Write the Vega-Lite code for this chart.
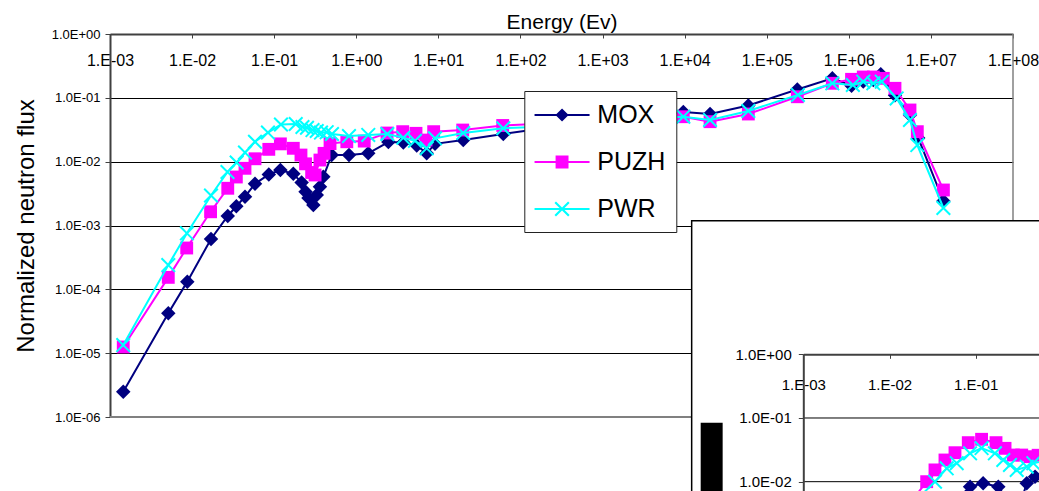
{
  "$schema": "https://vega.github.io/schema/vega-lite/v6.json",
  "width": 903,
  "height": 383,
  "autosize": {"type": "none"},
  "padding": {"left": 110, "top": 34, "right": 26, "bottom": 74},
  "background": "white",
  "config": {
    "view": {"stroke": null},
    "font": "Liberation Sans",
    "text": {"font": "Liberation Sans"}
  },
  "datasets": {
    "main": [
      {"s": "MOX", "e": 0.00145, "f": 0.00000249}, {"s": "MOX", "e": 0.00513, "f": 0.0000421}, {"s": "MOX", "e": 0.00874, "f": 0.000132},
      {"s": "MOX", "e": 0.017, "f": 0.000614}, {"s": "MOX", "e": 0.0272, "f": 0.00141}, {"s": "MOX", "e": 0.0346, "f": 0.002},
      {"s": "MOX", "e": 0.0441, "f": 0.00283}, {"s": "MOX", "e": 0.0584, "f": 0.0045}, {"s": "MOX", "e": 0.086, "f": 0.0063},
      {"s": "MOX", "e": 0.119, "f": 0.0074}, {"s": "MOX", "e": 0.171, "f": 0.00645}, {"s": "MOX", "e": 0.216, "f": 0.00472},
      {"s": "MOX", "e": 0.241, "f": 0.00338}, {"s": "MOX", "e": 0.262, "f": 0.0027}, {"s": "MOX", "e": 0.3, "f": 0.00209},
      {"s": "MOX", "e": 0.33, "f": 0.003}, {"s": "MOX", "e": 0.361, "f": 0.00405}, {"s": "MOX", "e": 0.397, "f": 0.0058},
      {"s": "MOX", "e": 0.502, "f": 0.0127}, {"s": "MOX", "e": 0.815, "f": 0.0127}, {"s": "MOX", "e": 1.4, "f": 0.0135},
      {"s": "MOX", "e": 2.46, "f": 0.0203}, {"s": "MOX", "e": 3.74, "f": 0.02}, {"s": "MOX", "e": 5.45, "f": 0.0179},
      {"s": "MOX", "e": 7.21, "f": 0.0135}, {"s": "MOX", "e": 9.1, "f": 0.019}, {"s": "MOX", "e": 20.1, "f": 0.0218},
      {"s": "MOX", "e": 61.8, "f": 0.0271}, {"s": "MOX", "e": 150, "f": 0.032}, {"s": "MOX", "e": 500, "f": 0.038},
      {"s": "MOX", "e": 1500, "f": 0.043}, {"s": "MOX", "e": 4000, "f": 0.049}, {"s": "MOX", "e": 9640, "f": 0.06},
      {"s": "MOX", "e": 20400, "f": 0.0558}, {"s": "MOX", "e": 59700, "f": 0.0758}, {"s": "MOX", "e": 236000, "f": 0.135},
      {"s": "MOX", "e": 630000, "f": 0.202}, {"s": "MOX", "e": 1080000, "f": 0.155}, {"s": "MOX", "e": 1500000, "f": 0.18},
      {"s": "MOX", "e": 1990000, "f": 0.19}, {"s": "MOX", "e": 2450000, "f": 0.235}, {"s": "MOX", "e": 3650000, "f": 0.11},
      {"s": "MOX", "e": 5560000, "f": 0.054}, {"s": "MOX", "e": 7000000, "f": 0.0235}, {"s": "MOX", "e": 14200000, "f": 0.00242},

      {"s": "PUZH", "e": 0.00145, "f": 0.0000125}, {"s": "PUZH", "e": 0.00513, "f": 0.000154}, {"s": "PUZH", "e": 0.0086, "f": 0.000444},
      {"s": "PUZH", "e": 0.0168, "f": 0.00164}, {"s": "PUZH", "e": 0.0272, "f": 0.00383}, {"s": "PUZH", "e": 0.0346, "f": 0.00575},
      {"s": "PUZH", "e": 0.0441, "f": 0.00787}, {"s": "PUZH", "e": 0.0584, "f": 0.0111}, {"s": "PUZH", "e": 0.086, "f": 0.0156},
      {"s": "PUZH", "e": 0.119, "f": 0.019}, {"s": "PUZH", "e": 0.171, "f": 0.0162}, {"s": "PUZH", "e": 0.212, "f": 0.0127},
      {"s": "PUZH", "e": 0.241, "f": 0.00925}, {"s": "PUZH", "e": 0.286, "f": 0.00677}, {"s": "PUZH", "e": 0.315, "f": 0.00618},
      {"s": "PUZH", "e": 0.361, "f": 0.0106}, {"s": "PUZH", "e": 0.405, "f": 0.0135}, {"s": "PUZH", "e": 0.479, "f": 0.0192},
      {"s": "PUZH", "e": 0.767, "f": 0.0205}, {"s": "PUZH", "e": 1.25, "f": 0.021}, {"s": "PUZH", "e": 2.37, "f": 0.0281},
      {"s": "PUZH", "e": 3.68, "f": 0.0295}, {"s": "PUZH", "e": 5.34, "f": 0.0278}, {"s": "PUZH", "e": 7.07, "f": 0.0218},
      {"s": "PUZH", "e": 8.77, "f": 0.0295}, {"s": "PUZH", "e": 19.8, "f": 0.0313}, {"s": "PUZH", "e": 60.8, "f": 0.0369},
      {"s": "PUZH", "e": 150, "f": 0.039}, {"s": "PUZH", "e": 500, "f": 0.042}, {"s": "PUZH", "e": 1500, "f": 0.046},
      {"s": "PUZH", "e": 4000, "f": 0.049}, {"s": "PUZH", "e": 9640, "f": 0.0506}, {"s": "PUZH", "e": 20400, "f": 0.0423},
      {"s": "PUZH", "e": 59700, "f": 0.0558}, {"s": "PUZH", "e": 236000, "f": 0.104}, {"s": "PUZH", "e": 630000, "f": 0.169},
      {"s": "PUZH", "e": 1080000, "f": 0.195}, {"s": "PUZH", "e": 1500000, "f": 0.212}, {"s": "PUZH", "e": 1990000, "f": 0.212},
      {"s": "PUZH", "e": 2630000, "f": 0.202}, {"s": "PUZH", "e": 3650000, "f": 0.141}, {"s": "PUZH", "e": 5560000, "f": 0.0645},
      {"s": "PUZH", "e": 6830000, "f": 0.0295}, {"s": "PUZH", "e": 14200000, "f": 0.0036},

      {"s": "PWR", "e": 0.00145, "f": 0.0000134}, {"s": "PWR", "e": 0.00513, "f": 0.00024}, {"s": "PWR", "e": 0.00865, "f": 0.000755},
      {"s": "PWR", "e": 0.017, "f": 0.00295}, {"s": "PWR", "e": 0.027, "f": 0.00689}, {"s": "PWR", "e": 0.0349, "f": 0.0097},
      {"s": "PWR", "e": 0.0441, "f": 0.0139}, {"s": "PWR", "e": 0.0584, "f": 0.0205}, {"s": "PWR", "e": 0.084, "f": 0.0286},
      {"s": "PWR", "e": 0.121, "f": 0.0382}, {"s": "PWR", "e": 0.183, "f": 0.0389}, {"s": "PWR", "e": 0.221, "f": 0.0349},
      {"s": "PWR", "e": 0.251, "f": 0.034}, {"s": "PWR", "e": 0.293, "f": 0.0313}, {"s": "PWR", "e": 0.33, "f": 0.0302},
      {"s": "PWR", "e": 0.372, "f": 0.0286}, {"s": "PWR", "e": 0.436, "f": 0.029}, {"s": "PWR", "e": 0.506, "f": 0.0271},
      {"s": "PWR", "e": 0.815, "f": 0.0252}, {"s": "PWR", "e": 1.4, "f": 0.0262}, {"s": "PWR", "e": 2.39, "f": 0.0271},
      {"s": "PWR", "e": 3.74, "f": 0.0237}, {"s": "PWR", "e": 5.19, "f": 0.0212}, {"s": "PWR", "e": 7.21, "f": 0.0162},
      {"s": "PWR", "e": 9.1, "f": 0.0232}, {"s": "PWR", "e": 20.1, "f": 0.0281}, {"s": "PWR", "e": 61.8, "f": 0.0333},
      {"s": "PWR", "e": 150, "f": 0.035}, {"s": "PWR", "e": 500, "f": 0.039}, {"s": "PWR", "e": 1500, "f": 0.043},
      {"s": "PWR", "e": 4000, "f": 0.048}, {"s": "PWR", "e": 9640, "f": 0.0506}, {"s": "PWR", "e": 20400, "f": 0.045},
      {"s": "PWR", "e": 59700, "f": 0.0622}, {"s": "PWR", "e": 240000, "f": 0.111}, {"s": "PWR", "e": 630000, "f": 0.169},
      {"s": "PWR", "e": 1120000, "f": 0.159}, {"s": "PWR", "e": 1500000, "f": 0.179}, {"s": "PWR", "e": 1990000, "f": 0.169},
      {"s": "PWR", "e": 2520000, "f": 0.179}, {"s": "PWR", "e": 3830000, "f": 0.098}, {"s": "PWR", "e": 5560000, "f": 0.045},
      {"s": "PWR", "e": 6830000, "f": 0.0182}, {"s": "PWR", "e": 14200000, "f": 0.00188}
    ],
    "frameRight": [{"e": 100000000, "f": 0.000001, "f2": 1}],
    "frameBottom": [{"e": 0.001, "e2": 100000000, "f": 0.000001}],
    "insetBox": [{"x": 0.0000507, "x2": 10, "y": 125, "y2": 0.0001}],
    "insetBar": [{"x": 0.0000645, "x2": 0.000116, "y": 0.0844, "y2": 0.0001}],
    "insetGrid": [{"x": 0.001, "x2": 10, "y": 0.1}, {"x": 0.001, "x2": 10, "y": 0.01}],
    "inset": [
      {"s": "MOX", "x": 0.058, "y": 0.005}, {"s": "MOX", "x": 0.086, "y": 0.00835}, {"s": "MOX", "x": 0.122, "y": 0.00944},
      {"s": "MOX", "x": 0.183, "y": 0.00835}, {"s": "MOX", "x": 0.25, "y": 0.0045}, {"s": "MOX", "x": 0.3, "y": 0.003},
      {"s": "MOX", "x": 0.391, "y": 0.00944}, {"s": "MOX", "x": 0.488, "y": 0.012}, {"s": "MOX", "x": 0.7, "y": 0.014},
      {"s": "PUZH", "x": 0.017, "y": 0.0045}, {"s": "PUZH", "x": 0.027, "y": 0.01}, {"s": "PUZH", "x": 0.0337, "y": 0.0153},
      {"s": "PUZH", "x": 0.044, "y": 0.0219}, {"s": "PUZH", "x": 0.0575, "y": 0.0285}, {"s": "PUZH", "x": 0.082, "y": 0.041},
      {"s": "PUZH", "x": 0.117, "y": 0.0463}, {"s": "PUZH", "x": 0.172, "y": 0.041}, {"s": "PUZH", "x": 0.219, "y": 0.0334},
      {"s": "PUZH", "x": 0.273, "y": 0.0262}, {"s": "PUZH", "x": 0.342, "y": 0.0262}, {"s": "PUZH", "x": 0.427, "y": 0.0247},
      {"s": "PUZH", "x": 0.53, "y": 0.026}, {"s": "PUZH", "x": 0.8, "y": 0.027},
      {"s": "PWR", "x": 0.02, "y": 0.005}, {"s": "PWR", "x": 0.0337, "y": 0.01}, {"s": "PWR", "x": 0.0461, "y": 0.0162},
      {"s": "PWR", "x": 0.0602, "y": 0.0195}, {"s": "PWR", "x": 0.086, "y": 0.0279}, {"s": "PWR", "x": 0.117, "y": 0.0337},
      {"s": "PWR", "x": 0.167, "y": 0.0279}, {"s": "PWR", "x": 0.209, "y": 0.0219}, {"s": "PWR", "x": 0.25, "y": 0.0183},
      {"s": "PWR", "x": 0.299, "y": 0.0153}, {"s": "PWR", "x": 0.391, "y": 0.0172}, {"s": "PWR", "x": 0.466, "y": 0.0195},
      {"s": "PWR", "x": 0.7, "y": 0.022}
    ]
  },
  "layer": [
    {
      "encoding": {
        "x": {
          "field": "e", "type": "quantitative",
          "scale": {"type": "log", "domain": [0.001, 100000000], "nice": false},
          "axis": {
            "orient": "bottom", "offset": -383,
            "values": [0.001, 0.01, 0.1, 1, 10, 100, 1000, 10000, 100000, 1000000, 10000000, 100000000],
            "labelExpr": "'1.E' + (datum.value < 0.9 ? '-' : '+') + '0' + abs(round(log(datum.value) / LN10))",
            "grid": false, "tickSize": 4, "tickColor": "#404040", "tickWidth": 1,
            "domainColor": "#404040", "domainWidth": 2,
            "labelFont": "Liberation Sans", "labelFontSize": 16, "labelColor": "black",
            "labelBaseline": "alphabetic", "labelPadding": 27.5, "labelOverlap": false, "labelFlush": false,
            "title": "Energy (Ev)", "titleFont": "Liberation Sans", "titleFontSize": 21, "titleFontWeight": "normal",
            "titleColor": "black", "titleX": 451.5, "titleY": -6, "titleBaseline": "alphabetic", "titleAlign": "center", "titleAngle": 0
          }
        },
        "y": {
          "field": "f", "type": "quantitative",
          "scale": {"type": "log", "domain": [0.000001, 1], "nice": false},
          "axis": {
            "orient": "left",
            "values": [0.000001, 0.00001, 0.0001, 0.001, 0.01, 0.1, 1],
            "labelExpr": "'1.0E' + (datum.value < 0.9 ? '-' : '+') + '0' + abs(round(log(datum.value) / LN10))",
            "grid": true, "gridColor": "black", "gridWidth": 1, "gridOpacity": 1,
            "tickSize": 5, "tickColor": "#404040", "domainColor": "#404040", "domainWidth": 2,
            "labelFont": "Liberation Sans", "labelFontSize": 13, "labelColor": "black", "labelPadding": 5, "labelOverlap": false,
            "title": "Normalized neutron flux", "titleFont": "Liberation Sans", "titleFontSize": 24, "titleFontWeight": "normal",
            "titleColor": "black", "titleX": -77, "titleY": 191.5, "titleBaseline": "alphabetic", "titleAlign": "center", "titleAngle": -90
          }
        }
      },
      "layer": [
        {"data": {"name": "frameRight"}, "mark": {"type": "rule", "color": "#808080", "strokeWidth": 1.5}, "encoding": {"y2": {"field": "f2"}}},
        {"data": {"name": "frameBottom"}, "mark": {"type": "rule", "color": "#808080", "strokeWidth": 2}, "encoding": {"x2": {"field": "e2"}}},
        {"data": {"name": "main"}, "transform": [{"filter": "datum.s === 'MOX'"}], "mark": {"type": "line", "color": "#000080", "strokeWidth": 2}},
        {"data": {"name": "main"}, "transform": [{"filter": "datum.s === 'MOX'"}], "mark": {"type": "point", "shape": "diamond", "filled": true, "color": "#000080", "opacity": 1, "size": 210}},
        {"data": {"name": "main"}, "transform": [{"filter": "datum.s === 'PUZH'"}], "mark": {"type": "line", "color": "#FF00FF", "strokeWidth": 2}},
        {"data": {"name": "main"}, "transform": [{"filter": "datum.s === 'PUZH'"}], "mark": {"type": "point", "shape": "square", "filled": true, "color": "#FF00FF", "opacity": 1, "size": 165}},
        {"data": {"name": "main"}, "transform": [{"filter": "datum.s === 'PWR'"}], "mark": {"type": "line", "color": "#00FFFF", "strokeWidth": 2}},
        {"data": {"name": "main"}, "transform": [{"filter": "datum.s === 'PWR'"}], "mark": {"type": "point", "shape": "M-1,-1L1,1M-1,1L1,-1", "filled": false, "color": "#00FFFF", "opacity": 1, "size": 185, "strokeWidth": 2}},
        {
          "data": {"name": "main"},
          "transform": [{"filter": "false"}],
          "mark": {"type": "point", "filled": true, "opacity": 1, "size": 756.25},
          "encoding": {
            "color": {
              "field": "s", "type": "nominal",
              "scale": {"domain": ["MOX", "PUZH", "PWR"], "range": ["#000080", "#FF00FF", "#00FFFF"]},
              "legend": {
                "title": null, "orient": "none", "legendX": 414.3, "legendY": 57, "padding": 10,
                "fillColor": "white", "strokeColor": "#222",
                "symbolSize": 756.25, "symbolStrokeWidth": 0, "symbolOffset": 0,
                "labelFont": "Liberation Sans", "labelFontSize": 25, "labelColor": "black", "labelOffset": 35, "rowPadding": 20
              }
            },
            "shape": {
              "field": "s", "type": "nominal",
              "scale": {
                "domain": ["MOX", "PUZH", "PWR"],
                "range": [
                  "M-1,-0.073H3V0.073H-1ZM1,-0.48L1.48,0L1,0.48L0.52,0Z",
                  "M-1,-0.073H3V0.073H-1ZM0.53,-0.47H1.47V0.47H0.53Z",
                  "M-1,-0.073H3V0.073H-1ZM0.45,-0.44L0.56,-0.55L1,-0.11L1.44,-0.55L1.55,-0.44L1.11,0L1.55,0.44L1.44,0.55L1,0.11L0.56,0.55L0.45,0.44L0.89,0Z"
                ]
              },
              "legend": {
                "title": null, "orient": "none", "legendX": 414.3, "legendY": 57, "padding": 10,
                "fillColor": "white", "strokeColor": "#222",
                "symbolSize": 756.25, "symbolStrokeWidth": 0, "symbolOffset": 0,
                "labelFont": "Liberation Sans", "labelFontSize": 25, "labelColor": "black", "labelOffset": 35, "rowPadding": 20
              }
            }
          }
        }
      ]
    },
    {
      "encoding": {
        "x": {
          "field": "x", "type": "quantitative",
          "scale": {"type": "log", "domain": [0.001, 1], "range": [693.3, 951.9], "nice": false},
          "axis": {
            "orient": "bottom", "offset": -62.7, "zindex": 1,
            "values": [0.001, 0.01, 0.1],
            "labelExpr": "'1.E' + (datum.value < 0.9 ? '-' : '+') + '0' + abs(round(log(datum.value) / LN10))",
            "grid": false, "tickSize": 4, "tickColor": "#404040", "domainColor": "#404040", "domainWidth": 2,
            "labelFont": "Liberation Sans", "labelFontSize": 15, "labelColor": "black",
            "labelBaseline": "alphabetic", "labelPadding": 30.7, "labelOverlap": false, "labelFlush": false,
            "title": null
          }
        },
        "y": {
          "field": "y", "type": "quantitative",
          "scale": {"type": "log", "domain": [0.002, 1], "range": [492.2, 320.3], "nice": false},
          "axis": {
            "orient": "left", "offset": -693.3, "zindex": 1,
            "values": [0.01, 0.1, 1],
            "labelExpr": "'1.0E' + (datum.value < 0.9 ? '-' : '+') + '0' + abs(round(log(datum.value) / LN10))",
            "grid": false, "tickSize": 5, "tickColor": "#404040", "domainColor": "#404040", "domainWidth": 2,
            "labelFont": "Liberation Sans", "labelFontSize": 15, "labelColor": "black", "labelPadding": 7, "labelOverlap": false,
            "title": null
          }
        }
      },
      "layer": [
        {"data": {"name": "insetBox"}, "mark": {"type": "rect", "fill": "white", "stroke": "black", "strokeWidth": 1.5}, "encoding": {"x2": {"field": "x2"}, "y2": {"field": "y2"}}},
        {"data": {"name": "insetBar"}, "mark": {"type": "rect", "fill": "black"}, "encoding": {"x2": {"field": "x2"}, "y2": {"field": "y2"}}},
        {"data": {"name": "insetGrid"}, "mark": {"type": "rule", "color": "black", "strokeWidth": 1}, "encoding": {"x2": {"field": "x2"}}},
        {"data": {"name": "inset"}, "transform": [{"filter": "datum.s === 'MOX'"}], "mark": {"type": "line", "color": "#000080", "strokeWidth": 2}},
        {"data": {"name": "inset"}, "transform": [{"filter": "datum.s === 'MOX'"}], "mark": {"type": "point", "shape": "diamond", "filled": true, "color": "#000080", "opacity": 1, "size": 210}},
        {"data": {"name": "inset"}, "transform": [{"filter": "datum.s === 'PUZH'"}], "mark": {"type": "line", "color": "#FF00FF", "strokeWidth": 2}},
        {"data": {"name": "inset"}, "transform": [{"filter": "datum.s === 'PUZH'"}], "mark": {"type": "point", "shape": "square", "filled": true, "color": "#FF00FF", "opacity": 1, "size": 165}},
        {"data": {"name": "inset"}, "transform": [{"filter": "datum.s === 'PWR'"}], "mark": {"type": "line", "color": "#00FFFF", "strokeWidth": 2}},
        {"data": {"name": "inset"}, "transform": [{"filter": "datum.s === 'PWR'"}], "mark": {"type": "point", "shape": "M-1,-1L1,1M-1,1L1,-1", "filled": false, "color": "#00FFFF", "opacity": 1, "size": 185, "strokeWidth": 2}}
      ]
    }
  ],
  "resolve": {
    "scale": {"x": "independent", "y": "independent"},
    "axis": {"x": "independent", "y": "independent"}
  }
}
